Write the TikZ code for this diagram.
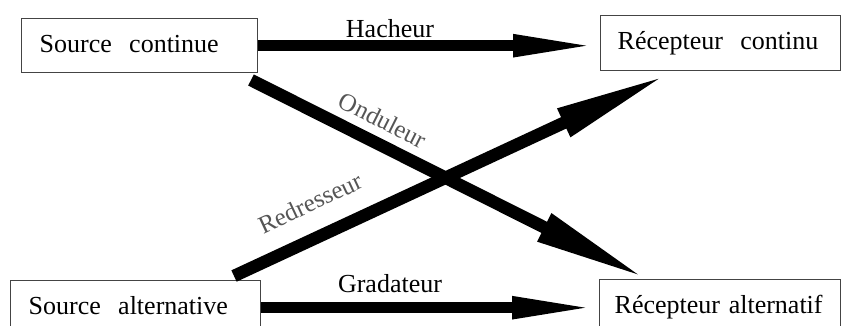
\documentclass[tikz,border=0pt]{standalone}
\usepackage{fontspec}
\setmainfont{Liberation Serif}
\usetikzlibrary{arrows.meta,calc}
\definecolor{boxline}{HTML}{444444}
\definecolor{labgray}{HTML}{555555}
\tikzset{
  box/.style={draw=boxline, line width=1.4pt, rectangle, anchor=north west,
    minimum height=54pt, inner xsep=18pt, inner ysep=0pt, align=left,
    text height=19pt, text depth=6pt, font=\fontsize{26pt}{30pt}\selectfont},
  conn/.style={line width=11pt, line cap=butt},
  dconn/.style={line width=12.5pt, line cap=butt},
  hhead/.style={-{Triangle[length=87pt,width=20pt]}},
  dhead/.style={-{Triangle[length=115pt,width=28pt]}},
  lab/.style={font=\fontsize{26pt}{30pt}\selectfont, inner sep=0pt},
  slab/.style={font=\fontsize{25pt}{30pt}\selectfont, text=labgray, inner sep=0pt}
}
\begin{document}
\begin{tikzpicture}[x=1pt,y=-1pt]
\useasboundingbox (0,0) rectangle (841,325);
\clip (0,0) rectangle (841,325);
\node[box, text width=200pt] (sc) at (21,18) {Source\ \ continue};
\node[box, text width=206pt, inner xsep=17pt, minimum height=55pt] (rc) at (600,15) {Récepteur\ \ continu};
\node[box, text width=214pt] (sa) at (10,280) {Source\ \ alternative};
\node[box, text width=211pt, inner xsep=15pt] (ra) at (599,279) {Récepteur alternatif};
\coordinate (o1) at (251,80);
\coordinate (o2) at ($(ra.north west)+(48,0)$);
\coordinate (r1) at (234,276);
\coordinate (r2) at ($(rc.south west)+(68,3)$);
\draw[conn, hhead] (sc.east) -- (sc.east -| rc.west);
\draw[conn, hhead] (sa.east) -- (sa.east -| ra.west);
\draw[dconn, dhead] (o1) -- (o2);
\draw[dconn, dhead] (r1) -- (r2);
\node[lab] (lh) at (390,29) {Hacheur};
\node[lab] (lg) at (390,284) {Gradateur};
\node[slab, rotate=-26.7] (lo) at (383,120) {Onduleur};
\node[slab, rotate=25.1] (lr) at (310,203) {Redresseur};
\end{tikzpicture}
\end{document}
